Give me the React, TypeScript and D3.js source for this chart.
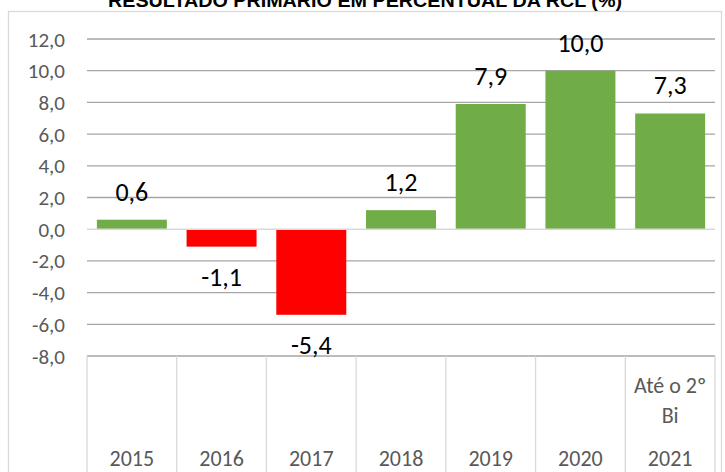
import React from 'react';
import * as d3 from 'd3';

const years = ['2015', '2016', '2017', '2018', '2019', '2020', '2021'];
const values = [0.6, -1.1, -5.4, 1.2, 7.9, 10.0, 7.3];
const extraLines: string[][] = [[], [], [], [], [], [], ['Até o 2º', 'Bi']];
const yTicks = [-8, -6, -4, -2, 0, 2, 4, 6, 8, 10, 12];
const title = 'RESULTADO PRIMÁRIO EM PERCENTUAL DA RCL (%)';

const W = 725;
const H = 472;
const font = 'Carlito, Calibri, Lato, sans-serif';
const fmt = (v: number) => v.toFixed(1).replace('.', ',');

export default function App() {
  const x = d3.scaleBand<string>().domain(years).range([87, 715]).paddingInner(0.22).paddingOuter(0.11);
  const y = d3.scaleLinear().domain([-8, 12]).range([356, 39]);
  const step = x.step();

  return (
    <svg
      width={W}
      height={H}
      style={{ position: 'fixed', top: 0, left: 0, display: 'block', background: '#fff' }}
    >
      {/* chart frame */}
      <rect x={8.5} y={11.5} width={713} height={480} fill="none" stroke="#d9d9d9" strokeWidth={1.3} />

      <text
        x={365}
        y={7}
        textAnchor="middle"
        fontFamily="'Liberation Sans', Arial, sans-serif"
        fontWeight="bold"
        fontSize={18}
        textLength={514}
        lengthAdjust="spacingAndGlyphs"
      >
        {title}
      </text>

      {/* gridlines + y labels */}
      {yTicks.map((t) => (
        <g key={t}>
          {t !== 0 && (
            <line x1={87} x2={715} y1={y(t)} y2={y(t)} stroke="#a6a6a6" strokeWidth={1.3} />
          )}
          <text
            x={65}
            y={y(t)}
            dy="0.36em"
            textAnchor="end"
            fontFamily={font}
            fontSize={21}
            fill="#595959"
          >
            {fmt(t)}
          </text>
        </g>
      ))}

      {/* bars */}
      {years.map((c, i) => {
        const v = values[i];
        const top = y(Math.max(0, v));
        const bot = y(Math.min(0, v));
        return (
          <g key={c}>
            <rect
              x={x(c)}
              y={top}
              width={x.bandwidth()}
              height={bot - top}
              fill={v >= 0 ? '#70ad47' : '#ff0000'}
            />
            <text
              x={x(c)! + x.bandwidth() / 2}
              y={v >= 0 ? top - 19 : bot + 39}
              textAnchor="middle"
              fontFamily={font}
              fontSize={26}
              fill="#000"
            >
              {fmt(v)}
            </text>
          </g>
        );
      })}

      {/* zero axis */}
      <line x1={87} x2={715} y1={y(0)} y2={y(0)} stroke="#d9d9d9" strokeWidth={1.5} />

      {/* category separators */}
      {d3.range(years.length + 1).map((i) => (
        <line
          key={i}
          x1={87 + i * step}
          x2={87 + i * step}
          y1={y(-8)}
          y2={H}
          stroke="#d9d9d9"
          strokeWidth={1.3}
        />
      ))}

      {/* category labels */}
      {years.map((c, i) => {
        const cx = x(c)! + x.bandwidth() / 2;
        return (
          <g key={c}>
            {extraLines[i].map((s, j) => (
              <text
                key={j}
                x={cx}
                y={393 + j * 30}
                textAnchor="middle"
                fontFamily={font}
                fontSize={22}
                fill="#595959"
              >
                {s}
              </text>
            ))}
            <text x={cx} y={466} textAnchor="middle" fontFamily={font} fontSize={22} fill="#595959">
              {c}
            </text>
          </g>
        );
      })}
    </svg>
  );
}
